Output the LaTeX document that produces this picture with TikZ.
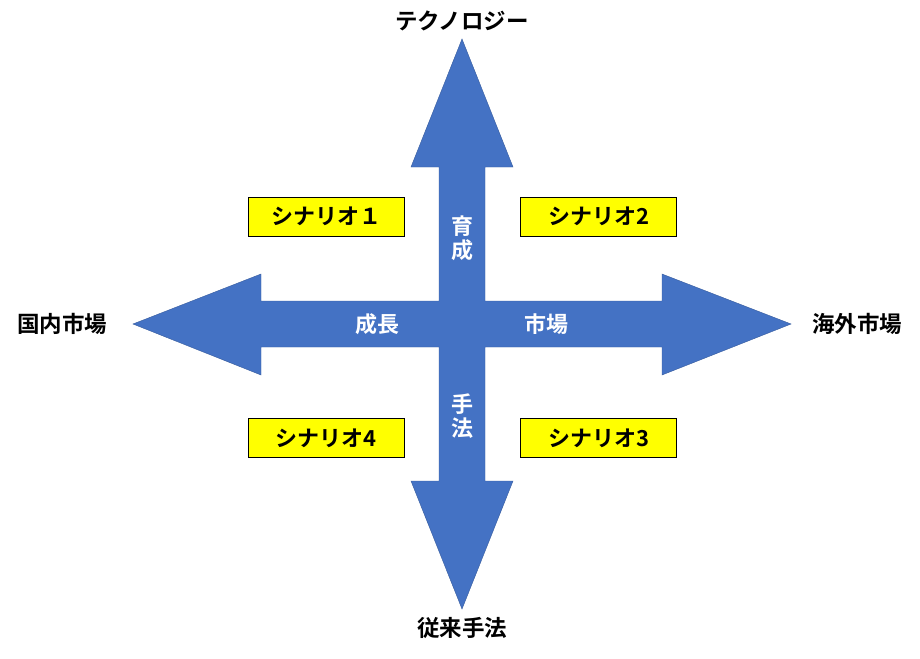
\documentclass[tikz,border=0pt]{standalone}
\usepackage{fontspec}
\setmainfont{Noto Sans CJK JP}[BoldFont={Noto Sans CJK JP Bold}]
\definecolor{arrowblue}{HTML}{4472C4}
\definecolor{boxyellow}{HTML}{FFFF00}
\begin{document}
\begin{tikzpicture}[x=1pt,y=-1pt,
  scen/.style={draw=black,line width=0.8pt,fill=boxyellow,minimum width=156pt,minimum height=39pt,inner sep=0pt,font=\fontsize{22}{24}\selectfont\bfseries},
  axislabel/.style={font=\fontsize{22.5}{26}\selectfont\bfseries,text=black,inner sep=0pt},
  inlabel/.style={font=\fontsize{22}{24}\selectfont\bfseries,text=white,inner sep=0pt,align=center}]
\useasboundingbox (0,0) rectangle (920,658);
\fill[arrowblue,draw=arrowblue!80!black,line width=0.4pt]
  (462,39) -- (513,167) -- (485,167) -- (485,301) -- (662,301) -- (662,274) -- (791,324)
  -- (662,375) -- (662,347) -- (485,347) -- (485,481) -- (513,481) -- (462,609)
  -- (411,481) -- (439,481) -- (439,347) -- (261,347) -- (261,375) -- (133,324)
  -- (261,274) -- (261,301) -- (439,301) -- (439,167) -- (411,167) -- cycle;
\node[scen] (s1) at (326,216.5) {シナリオ１};
\node[scen] (s2) at (598.5,216.5) {シナリオ2};
\node[scen] (s4) at (326,438) {シナリオ4};
\node[scen] (s3) at (598.5,438) {シナリオ3};
\node[axislabel] (top) at (462,21) {テクノロジー};
\node[axislabel] (left) at (62,324) {国内市場};
\node[axislabel] (right) at (857,324) {海外市場};
\node[axislabel] (bottom) at (462,628) {従来手法};
\node[inlabel] (ikusei) at (462,238) {育\\成};
\node[inlabel] (seicho) at (377,324) {成長};
\node[inlabel] (shijo) at (546,324) {市場};
\node[inlabel] (shuho) at (462,416) {手\\法};
\end{tikzpicture}
\end{document}
